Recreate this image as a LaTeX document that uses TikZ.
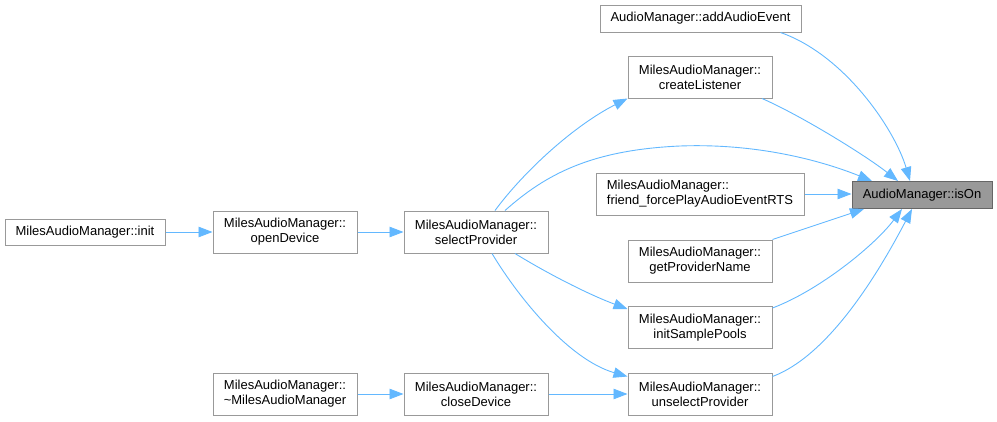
\documentclass[tikz,border=0pt]{standalone}
\usepackage{fontspec}
\setmainfont{Liberation Sans}
\usetikzlibrary{arrows.meta}
\definecolor{edgeblue}{HTML}{63B8FF}
\definecolor{nodeborder}{HTML}{999999}
\definecolor{hlborder}{HTML}{666666}
\definecolor{hlfill}{HTML}{999999}
\begin{document}
\begin{tikzpicture}[x=1pt,y=-1pt,
  box/.style={draw=nodeborder, line width=1pt, fill=white, rectangle, inner sep=0pt,
    font=\fontsize{13}{15}\selectfont, align=center, text=black},
  twoline/.style={box, minimum width=144pt, minimum height=42pt},
  hl/.style={box, draw=hlborder, fill=hlfill, minimum width=140pt, minimum height=27pt},
  call/.style={draw=edgeblue, line width=0.9pt, -{Triangle[length=14pt,width=10.5pt]}}
]
\useasboundingbox (0,0) rectangle (997,421);

\node[hl] (isOn) at (922,195) {AudioManager::isOn};
\node[box, minimum width=201pt, minimum height=27pt] (add) at (700.5,18.5) {AudioManager::addAudioEvent};
\node[twoline] (create) at (700,77) {MilesAudioManager::\\createListener};
\node[box, minimum width=208pt, minimum height=42pt, align=left] (friend) at (700,194) {MilesAudioManager::\\friend\_forcePlayAudioEventRTS};
\node[twoline] (getprov) at (700,261) {MilesAudioManager::\\getProviderName};
\node[twoline] (initsp) at (700,327.5) {MilesAudioManager::\\initSamplePools};
\node[twoline] (unsel) at (700,394) {MilesAudioManager::\\unselectProvider};
\node[twoline] (select) at (476,232) {MilesAudioManager::\\selectProvider};
\node[twoline] (open) at (285,232) {MilesAudioManager::\\openDevice};
\node[box, minimum width=160pt, minimum height=26pt] (init) at (85,232) {MilesAudioManager::init};
\node[twoline] (tilde) at (285,394) {MilesAudioManager::\\\textasciitilde MilesAudioManager};
\node[twoline] (close) at (476,394) {MilesAudioManager::\\closeDevice};

% edges into isOn
\draw[call] ([xshift=80pt]add.south) .. controls (845,55) and (895,130) .. ([xshift=-12pt]isOn.north);
\draw[call] ([xshift=62pt]create.south) .. controls (800,115) and (865,155) .. ([xshift=-24pt]isOn.north);
\draw[call] ([xshift=29pt]select.north) .. controls (545,175) and (590,150) .. (680,146)
  .. controls (760,143) and (825,162) .. ([xshift=-50pt]isOn.north);
\draw[call] (friend.east) -- (friend.east -| isOn.west);
\draw[call] (getprov.north east) -- ([xshift=-58pt]isOn.south);
\draw[call] ([yshift=-2pt]initsp.north east) .. controls (820,290) and (875,245) .. ([xshift=-20pt]isOn.south);
\draw[call] ([yshift=-4pt]unsel.north east) .. controls (830,355) and (880,270) .. ([xshift=-10pt]isOn.south);

% edges from selectProvider
\draw[call] ([xshift=19pt]select.north) .. controls (525,170) and (575,125) .. (create.south west);
\draw[call] ([xshift=39pt]select.south) .. controls (550,275) and (590,295) .. ([yshift=-3pt]initsp.north west);
\draw[call] ([xshift=16pt]select.south) .. controls (520,300) and (570,360) .. ([yshift=-4pt]unsel.north west);

% horizontal chains
\draw[call] (init.east) -- (open.west |- init.east);
\draw[call] (open.east) -- (select.west);
\draw[call] (tilde.east) -- (close.west);
\draw[call] (close.east) -- (unsel.west);
\end{tikzpicture}
\end{document}
